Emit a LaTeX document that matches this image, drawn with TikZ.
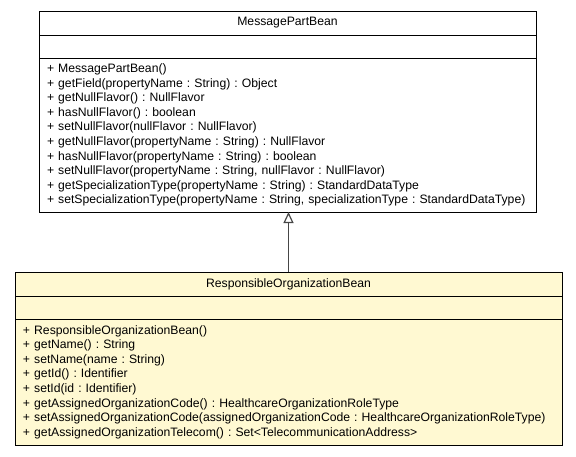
\documentclass[tikz,border=0pt]{standalone}
\usepackage{fontspec}
\setmainfont{Liberation Sans}
\usetikzlibrary{arrows.meta}
\definecolor{beanfill}{RGB}{255,249,210}
\definecolor{linkgray}{RGB}{70,70,70}
\frenchspacing
\begin{document}
\begin{tikzpicture}[x=1pt,y=1pt,
  every node/.style={font=\fontsize{12.2}{14.6}\selectfont},
  comp/.style={draw=black, line width=1pt, rectangle, inner sep=0pt, outer sep=0pt, anchor=north west},
  titlecomp/.style={comp, align=center},
  methcomp/.style={comp, align=left, inner xsep=8pt, text ragged},
  genlink/.style={draw=linkgray, line width=1.4pt, -{Triangle[open, length=11pt, width=10pt, line width=1.2pt]}}
]
\useasboundingbox (0,0) rectangle (576,-456);
% ---- MessagePartBean ----
\node[titlecomp, minimum width=497pt, minimum height=24pt] (mpbT) at (39,-11) {MessagePartBean};
\node[comp, minimum width=497pt, minimum height=23pt] (mpbA) at (mpbT.south west) {};
\node[methcomp, minimum width=497pt, minimum height=154pt, text width=481pt] (mpbM) at (mpbA.south west) {%
+ MessagePartBean()\\
+ getField(propertyName : String) : Object\\
+ getNullFlavor() : NullFlavor\\
+ hasNullFlavor() : boolean\\
+ setNullFlavor(nullFlavor : NullFlavor)\\
+ getNullFlavor(propertyName : String) : NullFlavor\\
+ hasNullFlavor(propertyName : String) : boolean\\
+ setNullFlavor(propertyName : String, nullFlavor : NullFlavor)\\
+ getSpecializationType(propertyName : String) : StandardDataType\\
+ setSpecializationType(propertyName : String, specializationType : StandardDataType)};
% ---- ResponsibleOrganizationBean ----
\node[titlecomp, fill=beanfill, minimum width=547pt, minimum height=24pt] (robT) at (15,-272) {ResponsibleOrganizationBean};
\node[comp, fill=beanfill, minimum width=547pt, minimum height=23pt] (robA) at (robT.south west) {};
\node[methcomp, fill=beanfill, minimum width=547pt, minimum height=126pt, text width=531pt] (robM) at (robA.south west) {%
+ ResponsibleOrganizationBean()\\
+ getName() : String\\
+ setName(name : String)\\
+ getId() : Identifier\\
+ setId(id : Identifier)\\
+ getAssignedOrganizationCode() : HealthcareOrganizationRoleType\\
+ setAssignedOrganizationCode(assignedOrganizationCode : HealthcareOrganizationRoleType)\\
+ getAssignedOrganizationTelecom() : Set<TelecommunicationAddress>};
% ---- generalization ----
\draw[genlink] (robT.north) -- (robT.north |- mpbM.south);
\end{tikzpicture}
\end{document}
